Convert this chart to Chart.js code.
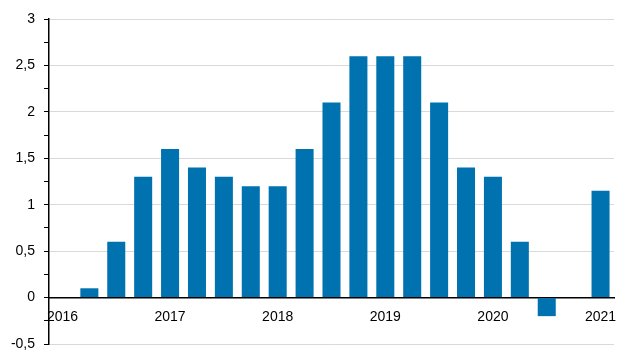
<!DOCTYPE html>
<html>
<head>
<meta charset="utf-8">
<script src="https://cdn.jsdelivr.net/npm/chart.js@4"></script>
<style>
  html, body { margin: 0; padding: 0; background: #fff; }
  #wrap { width: 634px; height: 363px; position: relative; }
</style>
</head>
<body>
<div id="wrap"><canvas id="c" width="634" height="363"></canvas></div>
<script>
const categories = ['2016Q1','2016Q2','2016Q3','2016Q4','2017Q1','2017Q2','2017Q3','2017Q4','2018Q1','2018Q2','2018Q3','2018Q4','2019Q1','2019Q2','2019Q3','2019Q4','2020Q1','2020Q2','2020Q3','2020Q4','2021Q1'];
const tickLabels = ['2016','','','','2017','','','','2018','','','','2019','','','','2020','','','','2021'];
const values = [null, 0.1, 0.6, 1.3, 1.6, 1.4, 1.3, 1.2, 1.2, 1.6, 2.1, 2.6, 2.6, 2.6, 2.1, 1.4, 1.3, 0.6, -0.2, null, 1.15];
const yTicksMajor = [-0.5, 0, 0.5, 1, 1.5, 2, 2.5, 3];

const FONT = "Arial, 'Liberation Sans', sans-serif";
const isMajor = v => yTicksMajor.some(m => Math.abs(m - v) < 1e-6);

new Chart(document.getElementById('c'), {
  type: 'bar',
  data: {
    labels: categories,
    datasets: [{
      data: values,
      backgroundColor: '#0072b0',
      borderWidth: 0,
      barPercentage: 0.67,
      categoryPercentage: 1.0
    }]
  },
  options: {
    responsive: false,
    animation: false,
    devicePixelRatio: 1,
    layout: { padding: { top: 19, right: 20, bottom: 19, left: 0 } },
    plugins: { legend: { display: false }, tooltip: { enabled: false } },
    scales: {
      x: {
        type: 'category',
        position: { y: 0 },
        grid: { display: false, drawTicks: false },
        border: { display: true, color: '#000', width: 1.5 },
        ticks: {
          autoSkip: false,
          maxRotation: 0,
          minRotation: 0,
          padding: 11,
          color: '#000',
          font: { family: FONT, size: 14 },
          callback: (v, i) => tickLabels[i]
        }
      },
      y: {
        min: -0.5,
        max: 3,
        afterFit: s => { s.width = 49; },
        grid: {
          color: ctx => (ctx.tick && isMajor(ctx.tick.value) && Math.abs(ctx.tick.value) > 1e-6) ? '#d9d9d9' : 'rgba(0,0,0,0)',
          tickColor: '#000',
          tickLength: 5,
          drawTicks: true
        },
        border: { display: true, color: '#000', width: 1.5 },
        ticks: {
          stepSize: 0.25,
          padding: 9,
          color: '#000',
          font: { family: FONT, size: 14 },
          callback: v => isMajor(v) ? String(v).replace('.', ',') : ''
        }
      }
    }
  }
});
</script>
</body>
</html>
